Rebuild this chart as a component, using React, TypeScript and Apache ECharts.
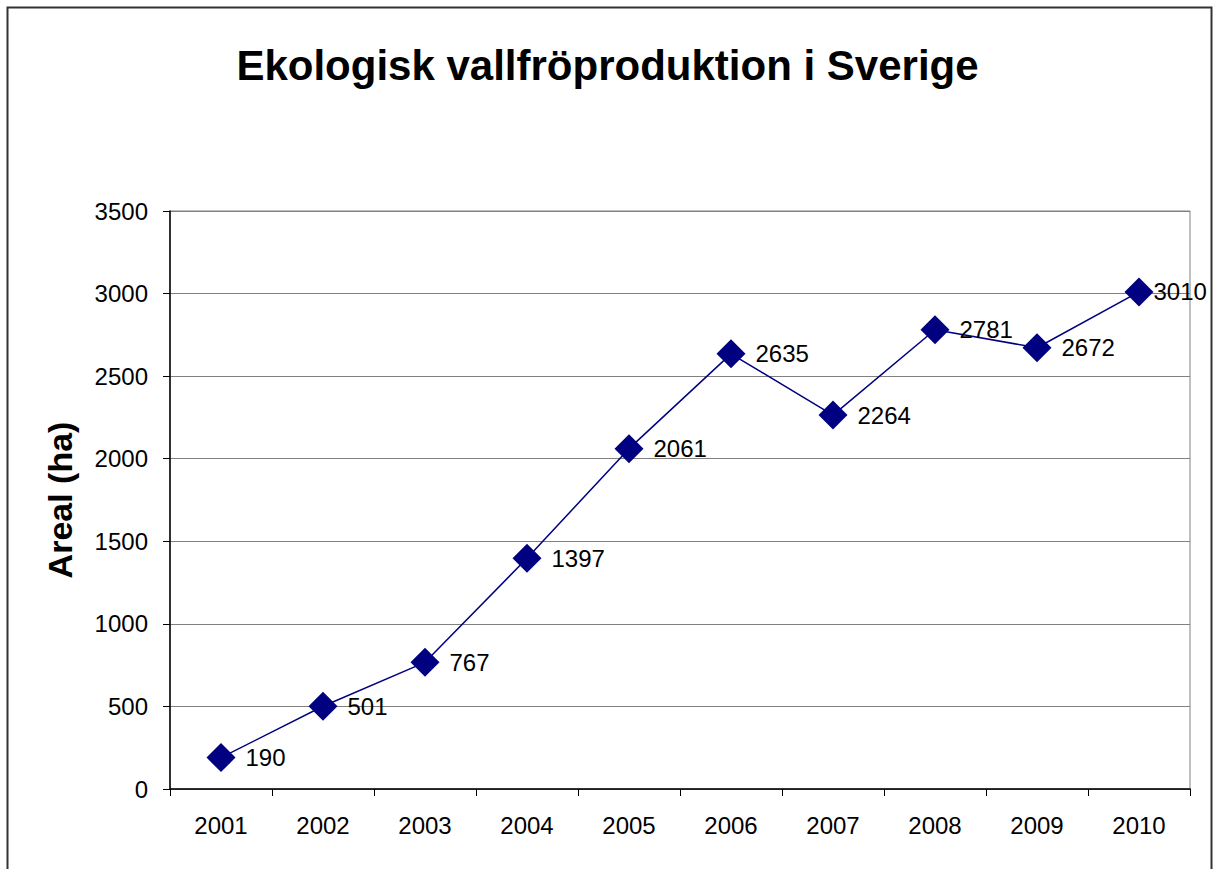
import React, { useEffect, useRef } from "react";
import * as echarts from "echarts";

const years = ["2001", "2002", "2003", "2004", "2005", "2006", "2007", "2008", "2009", "2010"];
const areal = [190, 501, 767, 1397, 2061, 2635, 2264, 2781, 2672, 3010];
const titleText = "Ekologisk vallfröproduktion i Sverige";
const yName = "Areal (ha)";

export default function App() {
  const ref = useRef<HTMLDivElement>(null);
  useEffect(() => {
    if (!ref.current) return;
    const chart = echarts.init(ref.current, null, { renderer: "svg" });
    const font = "'Liberation Sans', Arial, sans-serif";
    const seriesData = areal.map((v, i) =>
      i === areal.length - 1 ? { value: v, label: { distance: 0 } } : v
    );
    chart.setOption({
      animation: false,
      backgroundColor: "#ffffff",
      textStyle: { fontFamily: font },
      title: {
        text: titleText,
        left: "center",
        top: 39,
        textStyle: { fontSize: 42, fontWeight: "bold", color: "#000", fontFamily: font },
      },
      graphic: [
        {
          type: "rect",
          shape: { x: 7.5, y: 7.5, width: 1204, height: 900 },
          style: { fill: "none", stroke: "#333", lineWidth: 2 },
          silent: true,
        },
      ],
      grid: {
        left: 170,
        top: 211,
        right: 25,
        bottom: 80,
        show: true,
        borderColor: "#808080",
        borderWidth: 1,
      },
      xAxis: {
        type: "category",
        data: years,
        boundaryGap: true,
        axisLine: { show: true, lineStyle: { color: "#000", width: 1.5 } },
        axisTick: { show: true, alignWithLabel: false, length: 7, lineStyle: { color: "#000" } },
        axisLabel: { fontSize: 24, color: "#000", margin: 24, fontFamily: font },
        splitLine: { show: false },
      },
      yAxis: {
        type: "value",
        min: 0,
        max: 3500,
        interval: 500,
        name: yName,
        nameLocation: "middle",
        nameGap: 93,
        nameTextStyle: { fontSize: 34, fontWeight: "bold", color: "#000", fontFamily: font },
        axisLine: { show: true, lineStyle: { color: "#000", width: 1.5 } },
        axisTick: { show: true, length: 7, lineStyle: { color: "#000" } },
        axisLabel: {
          fontSize: 24,
          color: "#000",
          margin: 22,
          fontFamily: font,
          formatter: (v: number) => String(v),
        },
        splitLine: { show: true, lineStyle: { color: "#808080", width: 1 } },
      },
      series: [
        {
          type: "line",
          data: seriesData,
          clip: false,
          symbol: "diamond",
          symbolSize: [29, 29],
          lineStyle: { color: "#000080", width: 1.5 },
          itemStyle: { color: "#000080" },
          label: {
            show: true,
            position: "right",
            distance: 10,
            fontSize: 24,
            color: "#000",
            fontFamily: font,
          },
        },
      ],
    });
    return () => chart.dispose();
  }, []);
  return (
    <div
      ref={ref}
      style={{ position: "absolute", left: 0, top: 0, width: 1215, height: 869 }}
    />
  );
}
